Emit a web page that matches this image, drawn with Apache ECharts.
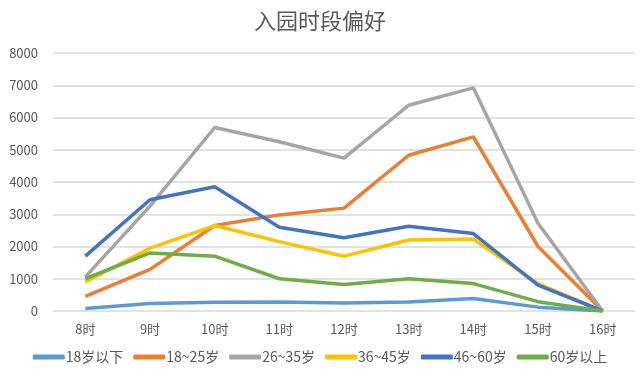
<!DOCTYPE html>
<html>
<head>
<meta charset="utf-8">
<script src="https://cdn.jsdelivr.net/npm/echarts@6/dist/echarts.min.js"></script>
<style>
  html, body { margin: 0; padding: 0; background: #fff; }
  #chart { width: 640px; height: 377px; }
</style>
</head>
<body>
<div id="chart"></div>
<script>
const hours = ['8时', '9时', '10时', '11时', '12时', '13时', '14时', '15时', '16时']

const under18 = [80, 230, 270, 280, 250, 280, 390, 120, 0]
const age18to25 = [450, 1290, 2650, 2980, 3190, 4830, 5400, 2000, 0]
const age26to35 = [1060, 3250, 5690, 5250, 4740, 6380, 6920, 2720, 0]
const age36to45 = [900, 1950, 2650, 2150, 1700, 2200, 2230, 850, 0]
const age46to60 = [1700, 3450, 3850, 2600, 2270, 2630, 2400, 800, 0]
const over60 = [1000, 1800, 1700, 1000, 820, 1000, 850, 290, 0]

const seriesNames = ['18岁以下', '18~25岁', '26~35岁', '36~45岁', '46~60岁', '60岁以上']
const seriesData = [under18, age18to25, age26to35, age36to45, age46to60, over60]
const colors = ['#5B9BD5', '#ED7D31', '#A5A5A5', '#FFC000', '#4472C4', '#70AD47']

const chart = echarts.init(document.getElementById('chart'))

chart.setOption({
  color: colors,
  textStyle: { fontFamily: '"Noto Sans CJK SC", "Liberation Sans", sans-serif' },
  title: {
    text: '入园时段偏好',
    left: 'center',
    top: 5,
    textStyle: { fontSize: 22, fontWeight: 'normal', color: '#595959' },
  },
  legend: {
    data: seriesNames,
    left: 'center',
    bottom: 8,
    icon: 'roundRect',
    itemWidth: 32,
    itemHeight: 5,
    itemGap: 10,
    textStyle: { fontSize: 14, color: '#595959', padding: [0, 0, 0, -4] },
  },
  grid: {
    left: 53,
    right: 5,
    top: 53,
    bottom: 66,
  },
  xAxis: {
    type: 'category',
    data: hours,
    boundaryGap: true,
    axisLine: { show: false },
    axisTick: { show: false },
    axisLabel: { color: '#595959', fontSize: 13, margin: 12 },
  },
  yAxis: {
    type: 'value',
    min: 0,
    max: 8000,
    interval: 1000,
    axisLine: { show: false },
    axisTick: { show: false },
    axisLabel: { color: '#595959', fontSize: 13, margin: 15, formatter: (v) => String(v) },
    splitLine: { lineStyle: { color: '#d9d9d9', width: 1.5 } },
  },
  series: seriesData.map((data, i) => ({
    name: seriesNames[i],
    type: 'line',
    data: data,
    showSymbol: false,
    symbol: 'none',
    lineStyle: { width: 3.5, color: colors[i] },
    itemStyle: { color: colors[i] },
  })),
})
</script>
</body>
</html>
